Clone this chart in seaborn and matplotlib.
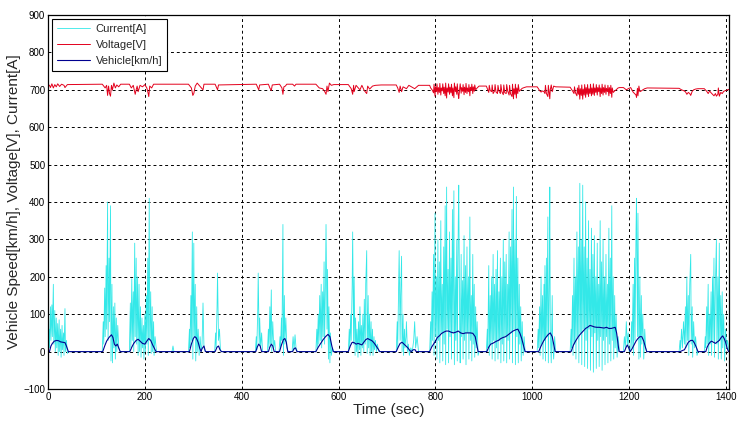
import matplotlib
matplotlib.use("Agg")
import matplotlib.pyplot as plt
import seaborn as sns
import pandas as pd

# ---------------- data (time [s], value) ----------------
current_samples = [
    (0, 0), (2, 60), (3, 10), (5, 120), (6, 30), (8, 125), (9, 40), (11, 180), (12, 20), (14, 110),
    (15, 0), (17, 90), (18, 10), (20, 75), (21, -10), (23, 85), (24, 0), (26, 60), (27, -15), (29, 70),
    (30, 5), (32, 50), (33, -10), (35, 115), (36, 0), (38, 30), (40, -5), (42, 0),
    (112, 0), (114, 80), (115, 20), (117, 170), (118, 40), (120, 230), (121, 60), (123, 400), (124, 30),
    (126, 250), (127, 80), (129, 390), (130, -25), (132, 180), (133, -30), (135, 120), (136, 10),
    (138, 130), (139, -20), (141, 90), (142, 0), (144, 70), (146, 10), (149, 0),
    (168, 0), (170, 130), (171, 10), (173, 195), (174, 30), (176, 160), (177, 0), (179, 290), (180, 40),
    (182, 250), (183, 20), (185, 200), (186, -10), (188, 180), (189, 0), (191, 120), (192, -15),
    (194, 90), (195, 10), (197, 70), (198, -20), (200, 100), (201, 0), (203, 150), (204, 20),
    (206, 250), (207, -10), (209, 410), (210, 30), (212, 160), (213, -5), (215, 120), (216, 0),
    (218, 80), (219, -10), (221, 40), (224, 0),
    (256, 0), (258, 15), (260, 0),
    (290, 0), (292, 60), (293, 10), (295, 150), (296, 30), (298, 320), (299, -20), (301, 290), (302, 40),
    (304, 180), (305, -25), (307, 120), (308, 0), (310, 60), (312, -10), (314, 40), (316, 0),
    (318, 20), (320, 130), (322, 10), (325, 0),
    (344, 0), (346, 50), (347, 10), (349, 120), (350, 210), (352, 30), (354, 60), (356, 5), (358, 0),
    (428, 0), (430, 40), (431, 5), (433, 110), (434, 210), (436, 20), (437, 90), (439, 10), (441, 50),
    (443, 0),
    (453, 0), (455, 60), (456, 10), (458, 120), (459, 20), (461, 165), (462, 0), (464, 80), (466, 10),
    (468, 30), (470, 0),
    (477, 0), (479, 40), (480, 10), (482, 90), (483, 30), (485, 340), (486, -10), (488, 150), (489, 20),
    (491, 90), (493, 10), (496, 0),
    (504, 0), (506, 40), (508, 5), (510, 45), (512, 10), (515, 0),
    (553, 0), (555, 60), (556, 10), (558, 100), (559, 20), (561, 150), (562, 30), (564, 180), (565, 10),
    (567, 160), (568, 40), (570, 240), (571, 20), (573, 200), (574, 340), (576, 60), (577, 220),
    (579, -20), (580, 120), (582, -30), (583, 50), (585, -10), (587, 10), (590, 0),
    (620, 0), (622, 60), (623, 10), (625, 100), (626, 30), (628, 180), (629, 320), (631, 20), (632, 200),
    (634, -10), (635, 90), (637, 0), (638, 60), (640, -15), (641, 80), (643, 5), (644, 120), (646, -10),
    (647, 70), (649, 10), (650, 100), (652, 0), (653, 140), (655, 20), (656, 180), (658, 270),
    (659, -5), (661, 150), (662, 10), (664, 100), (665, -10), (667, 80), (668, 0), (670, 60),
    (671, -10), (673, 40), (674, 5), (676, 30), (678, 0), (680, 20), (683, 0),
    (719, 0), (721, 80), (722, 10), (724, 180), (725, 270), (727, 30), (728, 150), (730, 255), (731, 0),
    (733, 100), (734, -10), (736, 60), (737, 10), (739, 40), (740, 80), (742, 0), (744, 20),
    (746, -10), (749, 10), (752, 0), (755, 30), (757, 80), (759, 10), (762, 40), (765, 0),
    (788, 0), (790, 80), (791, 10), (793, 160), (794, 30), (796, 260), (797, -10), (799, 370), (800, 40),
    (802, 200), (803, -20), (805, 300), (806, 30), (808, 240), (809, -30), (811, 350), (812, 50),
    (814, 180), (815, -25), (817, 280), (818, 20), (820, 390), (821, -35), (823, 440), (824, 60),
    (826, 220), (827, -30), (829, 320), (830, 40), (832, 250), (833, -20), (835, 380), (836, 50),
    (838, 430), (839, -35), (841, 200), (842, 30), (844, 300), (845, -25), (847, 340), (848, 445),
    (850, 60), (851, -30), (853, 260), (854, 40), (856, 190), (857, -20), (859, 310), (860, 30),
    (862, 230), (863, -35), (865, 280), (866, 50), (868, 200), (869, -20), (871, 360), (872, 30),
    (874, 150), (875, -25), (877, 260), (878, 20), (880, 180), (881, -15), (883, 120), (884, 10),
    (886, 80), (888, -10), (890, 0),
    (905, 0), (907, 60), (908, 10), (910, 230), (911, -10), (913, 150), (914, 20), (916, 200),
    (917, -20), (919, 260), (920, 30), (922, 180), (923, -25), (925, 220), (926, 10), (928, 270),
    (929, -20), (931, 160), (932, 30), (934, 250), (935, -30), (937, 200), (938, 20), (940, 300),
    (941, -25), (943, 240), (944, 40), (946, 260), (947, -30), (949, 180), (950, 30), (952, 320),
    (953, -20), (955, 280), (956, 50), (958, 380), (959, -30), (961, 440), (962, 60), (964, 300),
    (965, -35), (967, 415), (968, 40), (970, 250), (971, -30), (973, 180), (974, 20), (976, 120),
    (977, -25), (979, 80), (981, -10), (983, 40), (985, 0),
    (1010, 0), (1012, 60), (1013, 10), (1015, 120), (1016, -10), (1018, 200), (1019, 20), (1021, 150),
    (1022, -20), (1024, 180), (1025, 30), (1026, 230), (1027, -25), (1029, 250), (1030, 40),
    (1032, 360), (1033, -30), (1035, 200), (1036, 440), (1037, 60), (1039, -30), (1041, 150),
    (1042, 20), (1044, -20), (1046, 40), (1048, 0),
    (1078, 0), (1080, 60), (1081, 10), (1083, 150), (1084, -10), (1086, 250), (1087, 20), (1089, 200),
    (1090, -20), (1092, 320), (1093, 40), (1095, 280), (1096, -30), (1098, 450), (1099, 50),
    (1101, 300), (1102, -35), (1104, 445), (1105, 60), (1107, 280), (1108, -40), (1110, 400),
    (1111, 30), (1113, 250), (1114, -45), (1116, 350), (1117, 60), (1119, 220), (1120, -50),
    (1122, 330), (1123, 40), (1125, 260), (1126, -55), (1128, 310), (1129, 50), (1131, 200),
    (1132, -45), (1134, 290), (1135, 30), (1137, 180), (1138, -40), (1140, 350), (1141, 40),
    (1143, 240), (1144, -50), (1146, 300), (1147, 30), (1149, 200), (1150, -35), (1152, 260),
    (1153, 40), (1155, 180), (1156, -30), (1158, 330), (1159, 20), (1161, 250), (1162, -25),
    (1164, 390), (1165, 30), (1167, 200), (1168, -20), (1170, 150), (1171, 10), (1173, 100),
    (1175, -15), (1177, 40), (1180, 0),
    (1188, 0), (1190, 40), (1192, 10), (1194, 80), (1196, 20), (1198, 50), (1200, 0), (1203, 0),
    (1205, 80), (1206, 10), (1208, 180), (1209, -10), (1211, 250), (1212, 30), (1214, 320),
    (1215, 410), (1217, 40), (1218, 370), (1220, -20), (1222, 200), (1223, -15), (1225, 150),
    (1226, 20), (1228, 100), (1230, -20), (1232, 60), (1234, 10), (1237, 0),
    (1303, 0), (1305, 30), (1306, 5), (1308, 60), (1310, 10), (1312, 80), (1314, 20), (1316, 120),
    (1317, 10), (1319, 200), (1320, 30), (1322, 150), (1323, -10), (1325, 180), (1327, 260),
    (1328, 20), (1330, 120), (1331, -15), (1333, 80), (1335, 10), (1337, 40), (1340, -10), (1342, 0),
    (1355, 0), (1357, 40), (1358, 10), (1360, 120), (1361, 20), (1363, 180), (1364, -10), (1366, 100),
    (1367, 20), (1369, 160), (1370, -10), (1372, 200), (1373, 30), (1375, 250), (1376, -15),
    (1378, 180), (1380, 300), (1381, 20), (1383, 200), (1384, -20), (1386, 290), (1387, 30),
    (1389, 150), (1390, -20), (1392, 160), (1393, 10), (1395, 100), (1397, -25), (1399, 60),
    (1401, 10), (1403, 30), (1406, 0),
]

voltage_samples = [
    (0, 714), (3, 712), (5, 706), (8, 716), (11, 705), (14, 714), (17, 708), (20, 716), (24, 709),
    (28, 715), (33, 712), (35, 706), (40, 714), (112, 715),
    (118, 705), (121, 712), (123, 685), (125, 710), (127, 690), (129, 683), (131, 712), (133, 700),
    (136, 718), (139, 705), (142, 713), (146, 708), (150, 715), (168, 715),
    (172, 705), (176, 712), (180, 688), (182, 700), (184, 710), (186, 695), (190, 712), (195, 708),
    (200, 714), (204, 705), (206, 695), (208, 682), (210, 710), (214, 705), (218, 715), (290, 715),
    (296, 705), (299, 685), (301, 690), (304, 710), (308, 718), (312, 712), (320, 700), (322, 715),
    (345, 715), (350, 700), (352, 713), (430, 715), (435, 700), (437, 713), (455, 715), (458, 705),
    (461, 698), (463, 713), (478, 715), (483, 705), (485, 688), (487, 708), (490, 710), (493, 715),
    (505, 715), (509, 710), (512, 715), (553, 715), (560, 705), (567, 703), (571, 696), (574, 688),
    (576, 710), (578, 695), (581, 718), (585, 712), (590, 714), (620, 714),
    (626, 703), (629, 688), (631, 712), (632, 695), (636, 712), (644, 700), (648, 712), (653, 698),
    (656, 693), (658, 690), (660, 710), (664, 702), (670, 710), (676, 712), (688, 713), (719, 713),
    (722, 705), (725, 693), (727, 710), (730, 695), (733, 708), (740, 703), (745, 712), (757, 703),
    (765, 712), (788, 712),
    (790, 705), (793, 700), (796, 692), (797, 715), (799, 683), (800, 708), (802, 695), (803, 716),
    (805, 688), (806, 706), (808, 693), (809, 717), (811, 686), (812, 705), (814, 697), (815, 716),
    (817, 690), (818, 707), (820, 684), (821, 718), (823, 678), (824, 705), (826, 694), (827, 716),
    (829, 688), (830, 707), (832, 692), (833, 715), (835, 684), (836, 705), (838, 679), (839, 718),
    (841, 695), (842, 708), (844, 688), (845, 716), (847, 686), (848, 677), (850, 704), (851, 716),
    (853, 691), (854, 706), (856, 696), (857, 714), (859, 687), (860, 707), (862, 693), (863, 717),
    (865, 690), (866, 705), (868, 695), (869, 714), (871, 684), (872, 707), (874, 698), (875, 715),
    (877, 690), (878, 708), (880, 696), (881, 713), (883, 700), (886, 705), (890, 710), (905, 710),
    (910, 693), (911, 712), (913, 698), (916, 695), (917, 713), (919, 690), (922, 697), (923, 714),
    (925, 694), (928, 690), (929, 712), (931, 697), (934, 690), (935, 714), (937, 695), (940, 687),
    (941, 713), (943, 692), (946, 690), (947, 714), (949, 697), (952, 686), (953, 712), (955, 689),
    (958, 682), (959, 715), (961, 676), (962, 703), (964, 688), (965, 715), (967, 678), (968, 705),
    (970, 690), (971, 714), (973, 696), (976, 700), (979, 704), (983, 706), (988, 708), (1010, 708),
    (1015, 698), (1018, 694), (1021, 697), (1024, 695), (1026, 690), (1027, 712), (1029, 690),
    (1032, 682), (1033, 712), (1036, 676), (1037, 700), (1039, 713), (1041, 695), (1044, 710),
    (1048, 708), (1078, 707),
    (1083, 697), (1086, 690), (1087, 708), (1089, 692), (1092, 684), (1093, 705), (1095, 688),
    (1096, 712), (1098, 675), (1099, 703), (1101, 685), (1102, 713), (1104, 675), (1105, 702),
    (1107, 686), (1108, 714), (1110, 680), (1111, 706), (1113, 688), (1114, 714), (1116, 682),
    (1117, 703), (1119, 690), (1120, 715), (1122, 684), (1123, 705), (1125, 688), (1126, 716),
    (1128, 685), (1129, 705), (1131, 693), (1132, 714), (1134, 686), (1135, 706), (1137, 695),
    (1138, 713), (1140, 682), (1141, 705), (1143, 690), (1144, 715), (1146, 686), (1147, 706),
    (1149, 693), (1150, 713), (1152, 688), (1153, 704), (1155, 695), (1156, 712), (1158, 684),
    (1159, 706), (1161, 690), (1162, 712), (1164, 680), (1165, 705), (1167, 693), (1170, 697),
    (1173, 700), (1177, 705), (1180, 706), (1188, 706),
    (1194, 700), (1198, 703), (1203, 706), (1208, 694), (1211, 690), (1214, 686), (1215, 680),
    (1217, 704), (1218, 684), (1220, 710), (1222, 695), (1225, 697), (1228, 700), (1232, 703),
    (1237, 705), (1303, 704),
    (1308, 700), (1312, 698), (1316, 695), (1319, 688), (1322, 693), (1325, 690), (1327, 685),
    (1330, 696), (1333, 700), (1337, 702), (1342, 703), (1355, 703),
    (1360, 696), (1363, 690), (1366, 697), (1369, 692), (1372, 688), (1375, 684), (1378, 690),
    (1380, 683), (1383, 688), (1384, 705), (1386, 683), (1389, 693), (1392, 690), (1395, 696),
    (1399, 698), (1403, 700), (1406, 701),
]

speed_samples = [
    (0, 0), (3, 0), (6, 15), (9, 22), (13, 28), (18, 30), (22, 29), (26, 26), (30, 25), (35, 24),
    (38, 15), (42, 0),
    (113, 0), (117, 15), (121, 28), (126, 38), (131, 45), (134, 38), (137, 20), (140, 15), (143, 20),
    (146, 10), (149, 0),
    (169, 0), (173, 12), (177, 22), (182, 30), (186, 33), (190, 28), (195, 22), (200, 20), (204, 28),
    (208, 35), (212, 30), (216, 18), (220, 8), (223, 0),
    (292, 0), (296, 20), (300, 35), (303, 40), (306, 37), (310, 25), (313, 10), (316, 0), (318, 8),
    (322, 15), (325, 0),
    (345, 0), (349, 12), (352, 15), (355, 5), (358, 0),
    (429, 0), (432, 12), (435, 20), (438, 15), (441, 0),
    (455, 0), (458, 12), (461, 20), (464, 15), (467, 0),
    (478, 0), (482, 18), (486, 32), (489, 35), (492, 25), (495, 0),
    (505, 0), (508, 8), (511, 10), (514, 0),
    (553, 0), (558, 12), (563, 22), (568, 32), (573, 40), (578, 46), (582, 40), (586, 15), (589, 0),
    (620, 0), (624, 15), (628, 25), (632, 24), (636, 20), (640, 22), (644, 20), (648, 18), (652, 25),
    (656, 32), (660, 35), (664, 32), (668, 30), (672, 25), (676, 18), (680, 10), (685, 0),
    (719, 0), (723, 12), (727, 22), (731, 25), (735, 20), (739, 15), (743, 10), (747, 3), (750, 0),
    (754, 5), (758, 5), (760, 0),
    (788, 0), (792, 12), (796, 20), (800, 28), (804, 38), (808, 42), (812, 48), (817, 52), (822, 55),
    (827, 55), (832, 52), (837, 50), (842, 52), (847, 55), (852, 50), (857, 48), (862, 50), (867, 50),
    (872, 50), (877, 49), (882, 40), (885, 20), (888, 0),
    (906, 0), (910, 12), (914, 20), (918, 22), (922, 25), (926, 28), (930, 30), (935, 35), (940, 38),
    (945, 40), (950, 45), (955, 50), (960, 55), (965, 58), (970, 60), (974, 50), (978, 35), (982, 15),
    (985, 0),
    (1013, 0), (1018, 15), (1023, 28), (1028, 38), (1033, 46), (1037, 50), (1041, 40), (1044, 20),
    (1047, 0),
    (1080, 0), (1085, 18), (1090, 30), (1095, 40), (1100, 48), (1105, 55), (1110, 62), (1115, 66),
    (1119, 70), (1124, 68), (1128, 66), (1133, 65), (1138, 65), (1143, 64), (1148, 63), (1153, 65),
    (1158, 62), (1163, 62), (1168, 64), (1171, 65), (1174, 50), (1177, 20), (1179, 0),
    (1190, 0), (1193, 10), (1196, 18), (1199, 10), (1202, 0), (1206, 8), (1210, 18), (1214, 28),
    (1218, 35), (1222, 40), (1226, 40), (1230, 28), (1234, 10), (1236, 0),
    (1305, 0), (1310, 3), (1314, 5), (1318, 15), (1322, 25), (1327, 30), (1331, 30), (1335, 22),
    (1339, 10), (1342, 0),
    (1358, 0), (1361, 12), (1364, 20), (1367, 25), (1370, 28), (1374, 25), (1378, 22), (1382, 26),
    (1386, 30), (1390, 38), (1393, 42), (1396, 35), (1399, 25), (1402, 10), (1405, 0), (1406, 0),
]

x_ticks = [0, 200, 400, 600, 800, 1000, 1200, 1400]
y_ticks = [-100, 0, 100, 200, 300, 400, 500, 600, 700, 800, 900]
series_labels = ["Current[A]", "Voltage[V]", "Vehicle[km/h]"]

# ---------------- figure ----------------
sns.set_style("white")
plt.rcParams["font.family"] = ["Liberation Sans", "DejaVu Sans"]

fig = plt.figure(figsize=(7.41, 4.29), dpi=100)
ax = fig.add_axes([0.0648, 0.0932, 0.9190, 0.8718])

df_c = pd.DataFrame(current_samples, columns=["t", "v"])
df_v = pd.DataFrame(voltage_samples, columns=["t", "v"])
df_s = pd.DataFrame(speed_samples, columns=["t", "v"])

sns.lineplot(data=df_c, x="t", y="v", ax=ax, color="#33e8e8", linewidth=0.6,
             estimator=None, sort=False, label=series_labels[0])
sns.lineplot(data=df_v, x="t", y="v", ax=ax, color="#e3001c", linewidth=0.7,
             estimator=None, sort=False, label=series_labels[1])
sns.lineplot(data=df_s, x="t", y="v", ax=ax, color="#000090", linewidth=0.8,
             estimator=None, sort=False, label=series_labels[2])

ax.set_xlim(0, 1406)
ax.set_ylim(-100, 900)
ax.set_xticks(x_ticks)
ax.set_yticks(y_ticks)
ax.tick_params(direction="in", length=4, width=0.8, labelsize=7, colors="black", pad=2)
ax.grid(True, color="black", linestyle=(0, (3, 3)), linewidth=0.7)
for sp in ax.spines.values():
    sp.set_color("black")
    sp.set_linewidth(0.9)

ax.set_xlabel("Time (sec)", fontsize=11, labelpad=1)
ax.set_ylabel("Vehicle Speed[km/h], Voltage[V], Current[A]", fontsize=11, labelpad=2)

leg = ax.legend(loc="upper left", fontsize=8, frameon=True, fancybox=False,
                borderaxespad=0.35, handlelength=3.0, handletextpad=0.5,
                labelspacing=0.55, borderpad=0.45)
leg.get_frame().set_edgecolor("black")
leg.get_frame().set_linewidth(0.8)
leg.get_frame().set_alpha(1)

fig.savefig("out.png", dpi=100)
